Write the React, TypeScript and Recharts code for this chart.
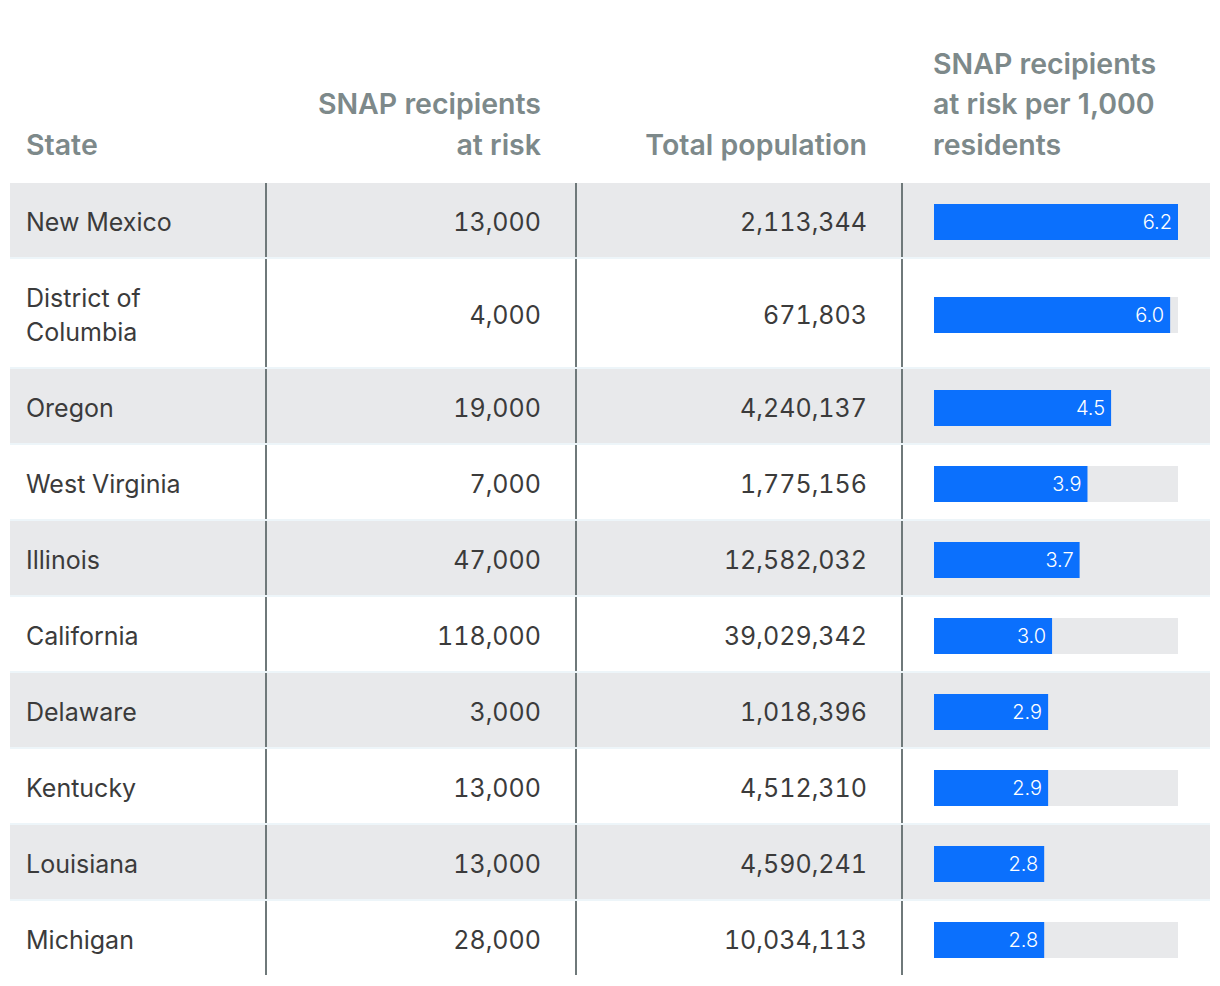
import { Bar, BarChart, LabelList, XAxis, YAxis } from "recharts";

const states = [
  "New Mexico",
  "District of Columbia",
  "Oregon",
  "West Virginia",
  "Illinois",
  "California",
  "Delaware",
  "Kentucky",
  "Louisiana",
  "Michigan",
];
const atRisk = [13000, 4000, 19000, 7000, 47000, 118000, 3000, 13000, 13000, 28000];
const population = [
  2113344, 671803, 4240137, 1775156, 12582032, 39029342, 1018396, 4512310,
  4590241, 10034113,
];
const perThousand = [6.2, 6.0, 4.5, 3.9, 3.7, 3.0, 2.9, 2.9, 2.8, 2.8];

const headers = [
  "State",
  "SNAP recipients at risk",
  "Total population",
  "SNAP recipients at risk per 1,000 residents",
];

const maxRate = Math.max(...perThousand);

const FONT = "Inter, 'Noto Sans', sans-serif";
const GRAY_ROW = "#e8e9eb";
const DIVIDER = "#6f797a";
const BLUE = "#0b70fd";
const cols = "255px 310px 326px 309px";

const fmt = (n: number) => n.toLocaleString("en-US");

function RateBar({ value }: { value: number }) {
  return (
    <BarChart
      width={244}
      height={40}
      data={[{ name: "rate", value }]}
      layout="vertical"
      margin={{ top: 0, right: 0, bottom: 0, left: 0 }}
      barCategoryGap={0}
    >
      <XAxis type="number" domain={[0, maxRate]} hide />
      <YAxis type="category" dataKey="name" hide />
      <Bar
        dataKey="value"
        fill={BLUE}
        barSize={40}
        background={{ fill: GRAY_ROW }}
        isAnimationActive={false}
      >
        <LabelList
          dataKey="value"
          position="insideRight"
          offset={6}
          fill="#ffffff"
          fontSize={20}
          fontFamily={FONT}
          fontWeight={300}
          formatter={(v: any) => Number(v).toFixed(1)}
        />
      </Bar>
    </BarChart>
  );
}

export default function App() {
  const headStyle: React.CSSProperties = {
    color: "#7d898a",
    fontWeight: 600,
    fontSize: 28.5,
    lineHeight: "40.5px",
    alignSelf: "end",
  };
  const cellStyle: React.CSSProperties = {
    display: "flex",
    alignItems: "center",
    fontSize: 25,
    lineHeight: "34px",
    color: "#3b3b3b",
    fontVariantNumeric: "tabular-nums",
    padding: "22px 34px 18px 16px",
  };
  return (
    <div style={{ width: 1200, marginLeft: 2, paddingTop: 35.5, fontFamily: FONT }}>
      <div
        style={{
          display: "grid",
          gridTemplateColumns: cols,
          paddingBottom: 18,
        }}
      >
        <div style={{ ...headStyle, paddingLeft: 16 }}>{headers[0]}</div>
        <div style={{ ...headStyle, textAlign: "right", paddingRight: 34, paddingLeft: 40 }}>
          {headers[1]}
        </div>
        <div style={{ ...headStyle, textAlign: "right", paddingRight: 34 }}>{headers[2]}</div>
        <div style={{ ...headStyle, paddingLeft: 32, paddingRight: 30 }}>{headers[3]}</div>
      </div>
      {states.map((s, i) => (
        <div
          key={s}
          style={{
            display: "grid",
            gridTemplateColumns: cols,
            background: i % 2 === 0 ? GRAY_ROW : "#ffffff",
            borderBottom: `2px solid ${i < states.length - 1 ? "#edf5f9" : "transparent"}`,
          }}
        >
          <div style={cellStyle}>{s}</div>
          <div
            style={{
              ...cellStyle,
              justifyContent: "flex-end",
              borderLeft: `2px solid ${DIVIDER}`,
            }}
          >
            {fmt(atRisk[i])}
          </div>
          <div
            style={{
              ...cellStyle,
              justifyContent: "flex-end",
              borderLeft: `2px solid ${DIVIDER}`,
            }}
          >
            {fmt(population[i])}
          </div>
          <div
            style={{
              display: "flex",
              alignItems: "center",
              paddingLeft: 31,
              paddingTop: 3,
              borderLeft: `2px solid ${DIVIDER}`,
            }}
          >
            <RateBar value={perThousand[i]} />
          </div>
        </div>
      ))}
    </div>
  );
}
